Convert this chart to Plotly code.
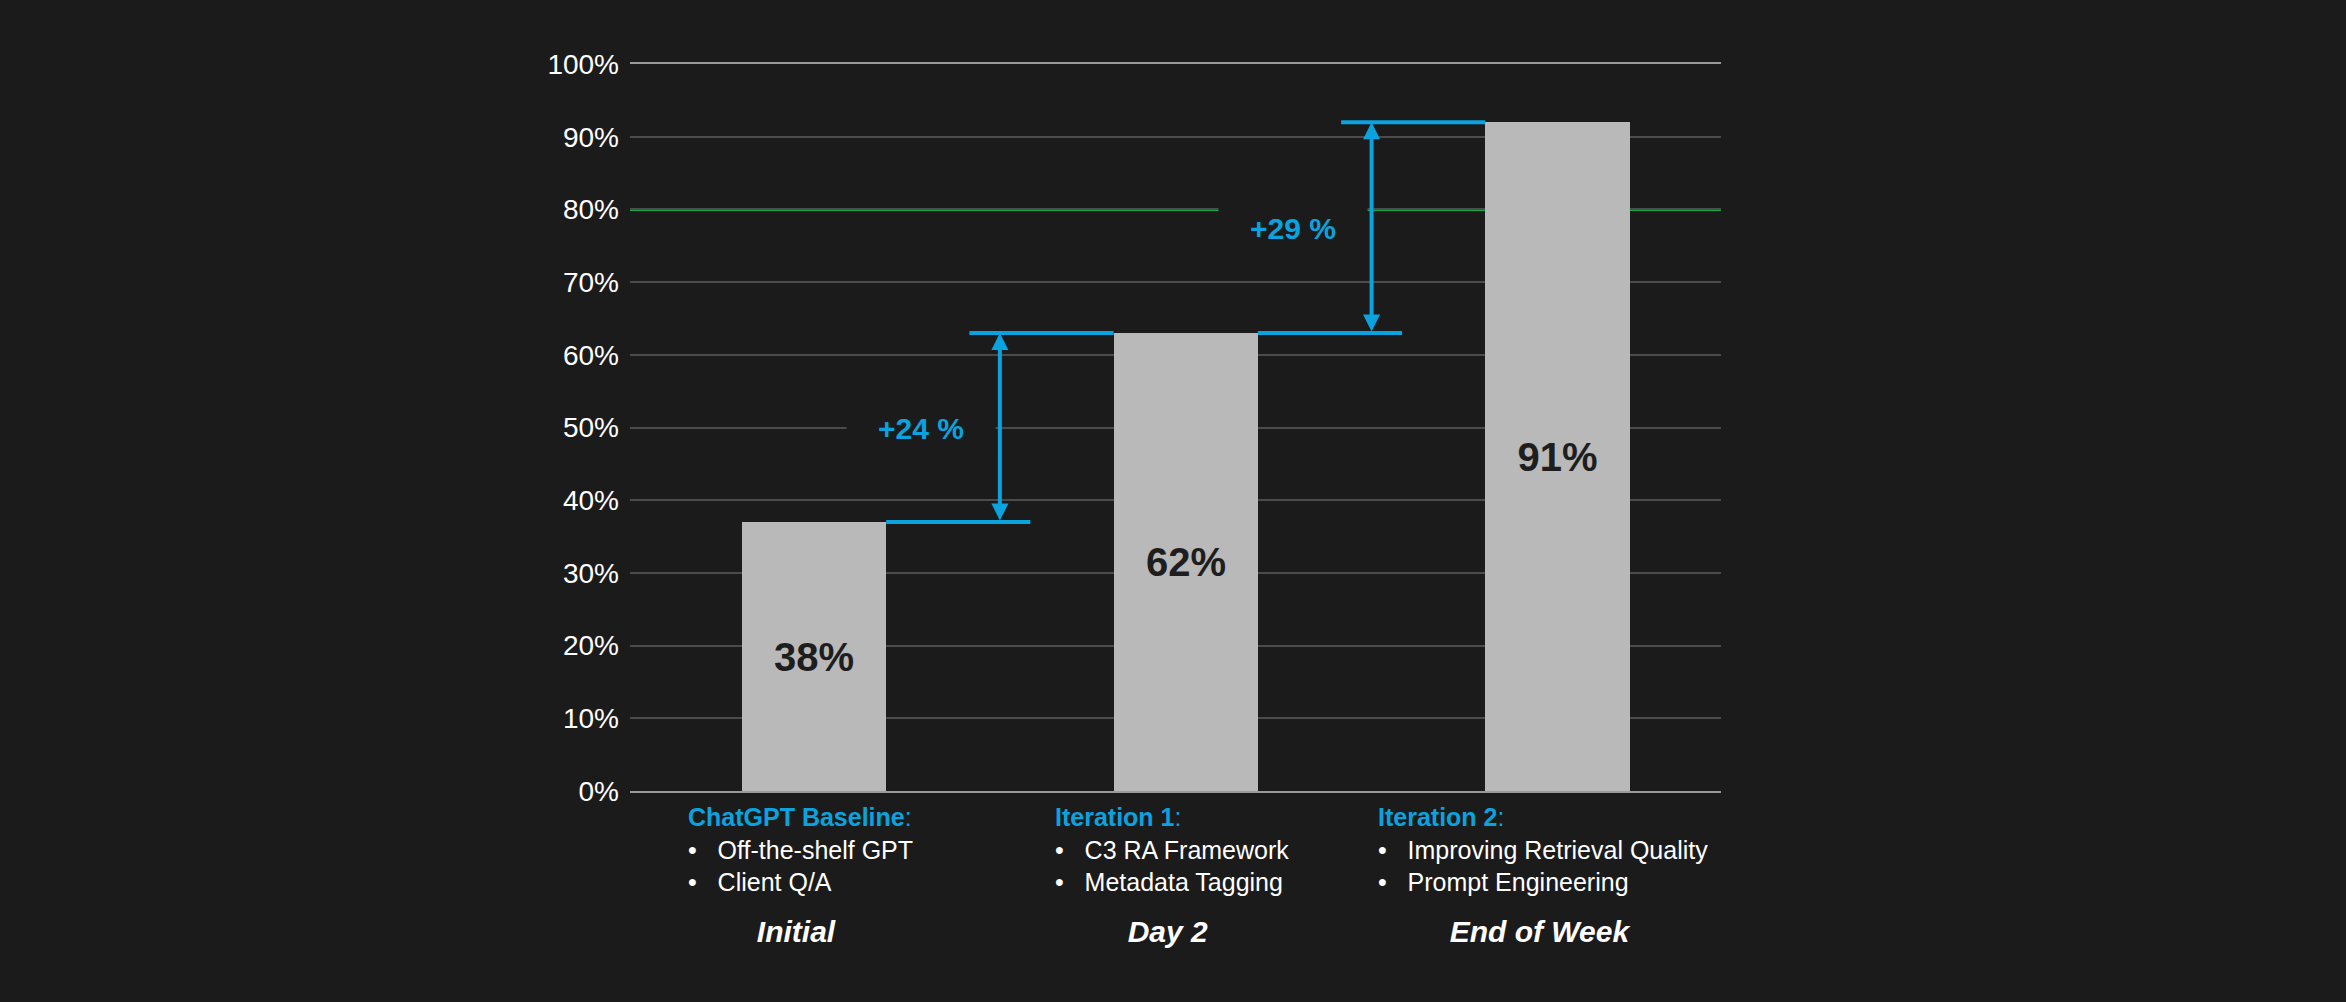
import plotly.graph_objects as go

# values
stages = ["Initial", "Day 2", "End of Week"]
accuracy = [37, 63, 92]            # bar heights as drawn
bar_labels = [38, 62, 91]          # numbers printed in the bars
target = 80
headings = ["ChatGPT Baseline", "Iteration 1", "Iteration 2"]
bullets = [
    ["Off-the-shelf GPT", "Client Q/A"],
    ["C3 RA Framework", "Metadata Tagging"],
    ["Improving Retrieval Quality", "Prompt Engineering"],
]
y_ticks = list(range(0, 101, 10))

BG = "#1b1b1b"
BAR = "#b9b9b9"
BLUE = "#0aa3df"
GREEN = "#10aa4c"
GRID = "#4b4b4b"
FONT = "Liberation Sans, Arial, sans-serif"

xs = list(range(len(stages)))
w = 0.388  # bar width in category units

fig = go.Figure()
fig.add_trace(go.Bar(
    x=xs, y=accuracy, width=w,
    marker=dict(color=BAR, line=dict(width=0)),
    text=[f"{v}%" for v in bar_labels],
    textposition="inside", insidetextanchor="middle", textangle=0,
    textfont=dict(family=FONT, size=40, color="#1e1e1e", weight="bold"),
    hoverinfo="skip",
))

# target line, drawn above the grid but under the bars
fig.add_shape(type="line", xref="paper", x0=0, x1=1, y0=target, y1=target,
              line=dict(color=GREEN, width=3), layer="between")

# step connectors, double arrows and delta labels between bars
for i in range(len(xs) - 1):
    lo, hi = accuracy[i], accuracy[i + 1]
    mid = xs[i] + 0.5
    fig.add_shape(type="line", x0=xs[i] + w / 2, x1=xs[i] + w / 2 + w, y0=lo, y1=lo,
                  line=dict(color=BLUE, width=4))
    fig.add_shape(type="line", x0=xs[i + 1] - w / 2 - w, x1=xs[i + 1] - w / 2, y0=hi, y1=hi,
                  line=dict(color=BLUE, width=4))
    fig.add_annotation(x=mid, y=hi, ax=mid, ay=lo, xref="x", yref="y", axref="x", ayref="y",
                       text="", showarrow=True, arrowside="end+start", arrowhead=2,
                       startarrowhead=2, arrowsize=0.85, startarrowsize=0.85,
                       arrowwidth=4, arrowcolor=BLUE, standoff=0, startstandoff=0)
    fig.add_annotation(x=mid, y=(lo + hi) / 2, xref="x", yref="y", xanchor="right", xshift=-4,
                       text=f"<b>+{bar_labels[i + 1] - bar_labels[i]} %</b>", showarrow=False,
                       width=146, height=46, bgcolor=BG,
                       font=dict(family=FONT, size=30, color=BLUE))

# description blocks under the axis
for i, (head, items) in enumerate(zip(headings, bullets)):
    lines = [f"<span style='color:{BLUE}'><b>{head}</b>:</span>"]
    lines += ["•\u00a0\u00a0\u00a0" + t for t in items]
    fig.add_annotation(x=xs[i], y=0, xref="x", yref="paper", xanchor="center", yanchor="top",
                       xshift=-14, yshift=-10, align="left", showarrow=False,
                       text="<br>".join(lines),
                       font=dict(family=FONT, size=25, color="white"))

fig.update_layout(
    width=2346, height=1002,
    paper_bgcolor=BG, plot_bgcolor=BG,
    margin=dict(l=630, r=625, t=64, b=211),
    showlegend=False, bargap=0,
    font=dict(family=FONT, color="white"),
)
fig.update_xaxes(
    range=[-0.495, 2.44], tickvals=xs, ticktext=stages,
    showgrid=False, zeroline=False, ticks="",
    showline=True, mirror=True, linecolor="#9a9a9a", linewidth=2,
    tickfont=dict(family=FONT, size=30, color="white", weight="bold", style="italic"),
    ticklabelstandoff=113, ticklabelshift=-18,
)
fig.update_yaxes(
    range=[0, 100], tickvals=y_ticks, ticktext=[f"{v}%" for v in y_ticks],
    showgrid=True, gridcolor=GRID, gridwidth=2, zeroline=False, showline=False, ticks="",
    tickfont=dict(family=FONT, size=28, color="white"), ticklabelstandoff=10,
)

fig.write_html("out.html", config={"displayModeBar": False},
               post_script="document.body.style.margin='0';")
